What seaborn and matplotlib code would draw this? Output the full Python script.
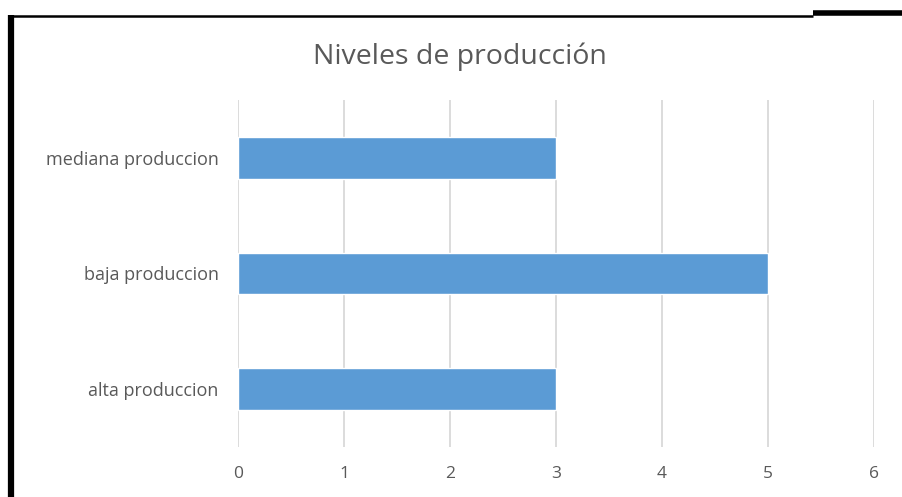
import matplotlib
matplotlib.use("Agg")
import matplotlib.pyplot as plt
import seaborn as sns
import pandas as pd
from matplotlib.lines import Line2D

categories = ["mediana produccion", "baja produccion", "alta produccion"]
values = [3, 5, 3]
x_ticks = [0, 1, 2, 3, 4, 5, 6]

sns.set_theme(style="white")
plt.rcParams['font.family'] = ['Open Sans', 'DejaVu Sans']

df = pd.DataFrame({"categoria": categories, "valor": values})

fig = plt.figure(figsize=(9.03, 4.97), dpi=100)
ax = fig.add_axes([238/903, 1 - 447/497, (874 - 238)/903, (447 - 100)/497])

sns.barplot(data=df, y="categoria", x="valor", order=categories, orient="h",
            color="#5B9BD5", saturation=1, width=0.36, ax=ax)

ax.set_xlim(0, 6)
ax.set_xticks(x_ticks)
ax.set_xticklabels([str(t) for t in x_ticks])
ax.set_xlabel("")
ax.set_ylabel("")
ax.xaxis.grid(True, color="#D9D9D9", linewidth=1.3)
ax.yaxis.grid(False)
ax.set_axisbelow(True)
for s in ax.spines.values():
    s.set_visible(False)
ax.tick_params(axis="x", length=0, pad=14, labelsize=12.5, colors="#595959")
ax.tick_params(axis="y", length=0, pad=14, labelsize=13, colors="#595959")

fig.text(460/903, 1 - 57/497, "Niveles de producción", ha="center", va="center",
         fontsize=20.5, color="#595959")

# document frame lines
fig.add_artist(Line2D([11/903, 11/903], [0, 1 - 15/497], transform=fig.transFigure,
                      color="black", linewidth=4.5, solid_capstyle="butt"))
fig.add_artist(Line2D([8/903, 813/903], [1 - 16/497, 1 - 16/497], transform=fig.transFigure,
                      color="black", linewidth=1.8, solid_capstyle="butt"))
fig.add_artist(Line2D([813/903, 1.0], [1 - 13/497, 1 - 13/497], transform=fig.transFigure,
                      color="black", linewidth=4, solid_capstyle="butt"))

fig.savefig("out.png", dpi=100)
